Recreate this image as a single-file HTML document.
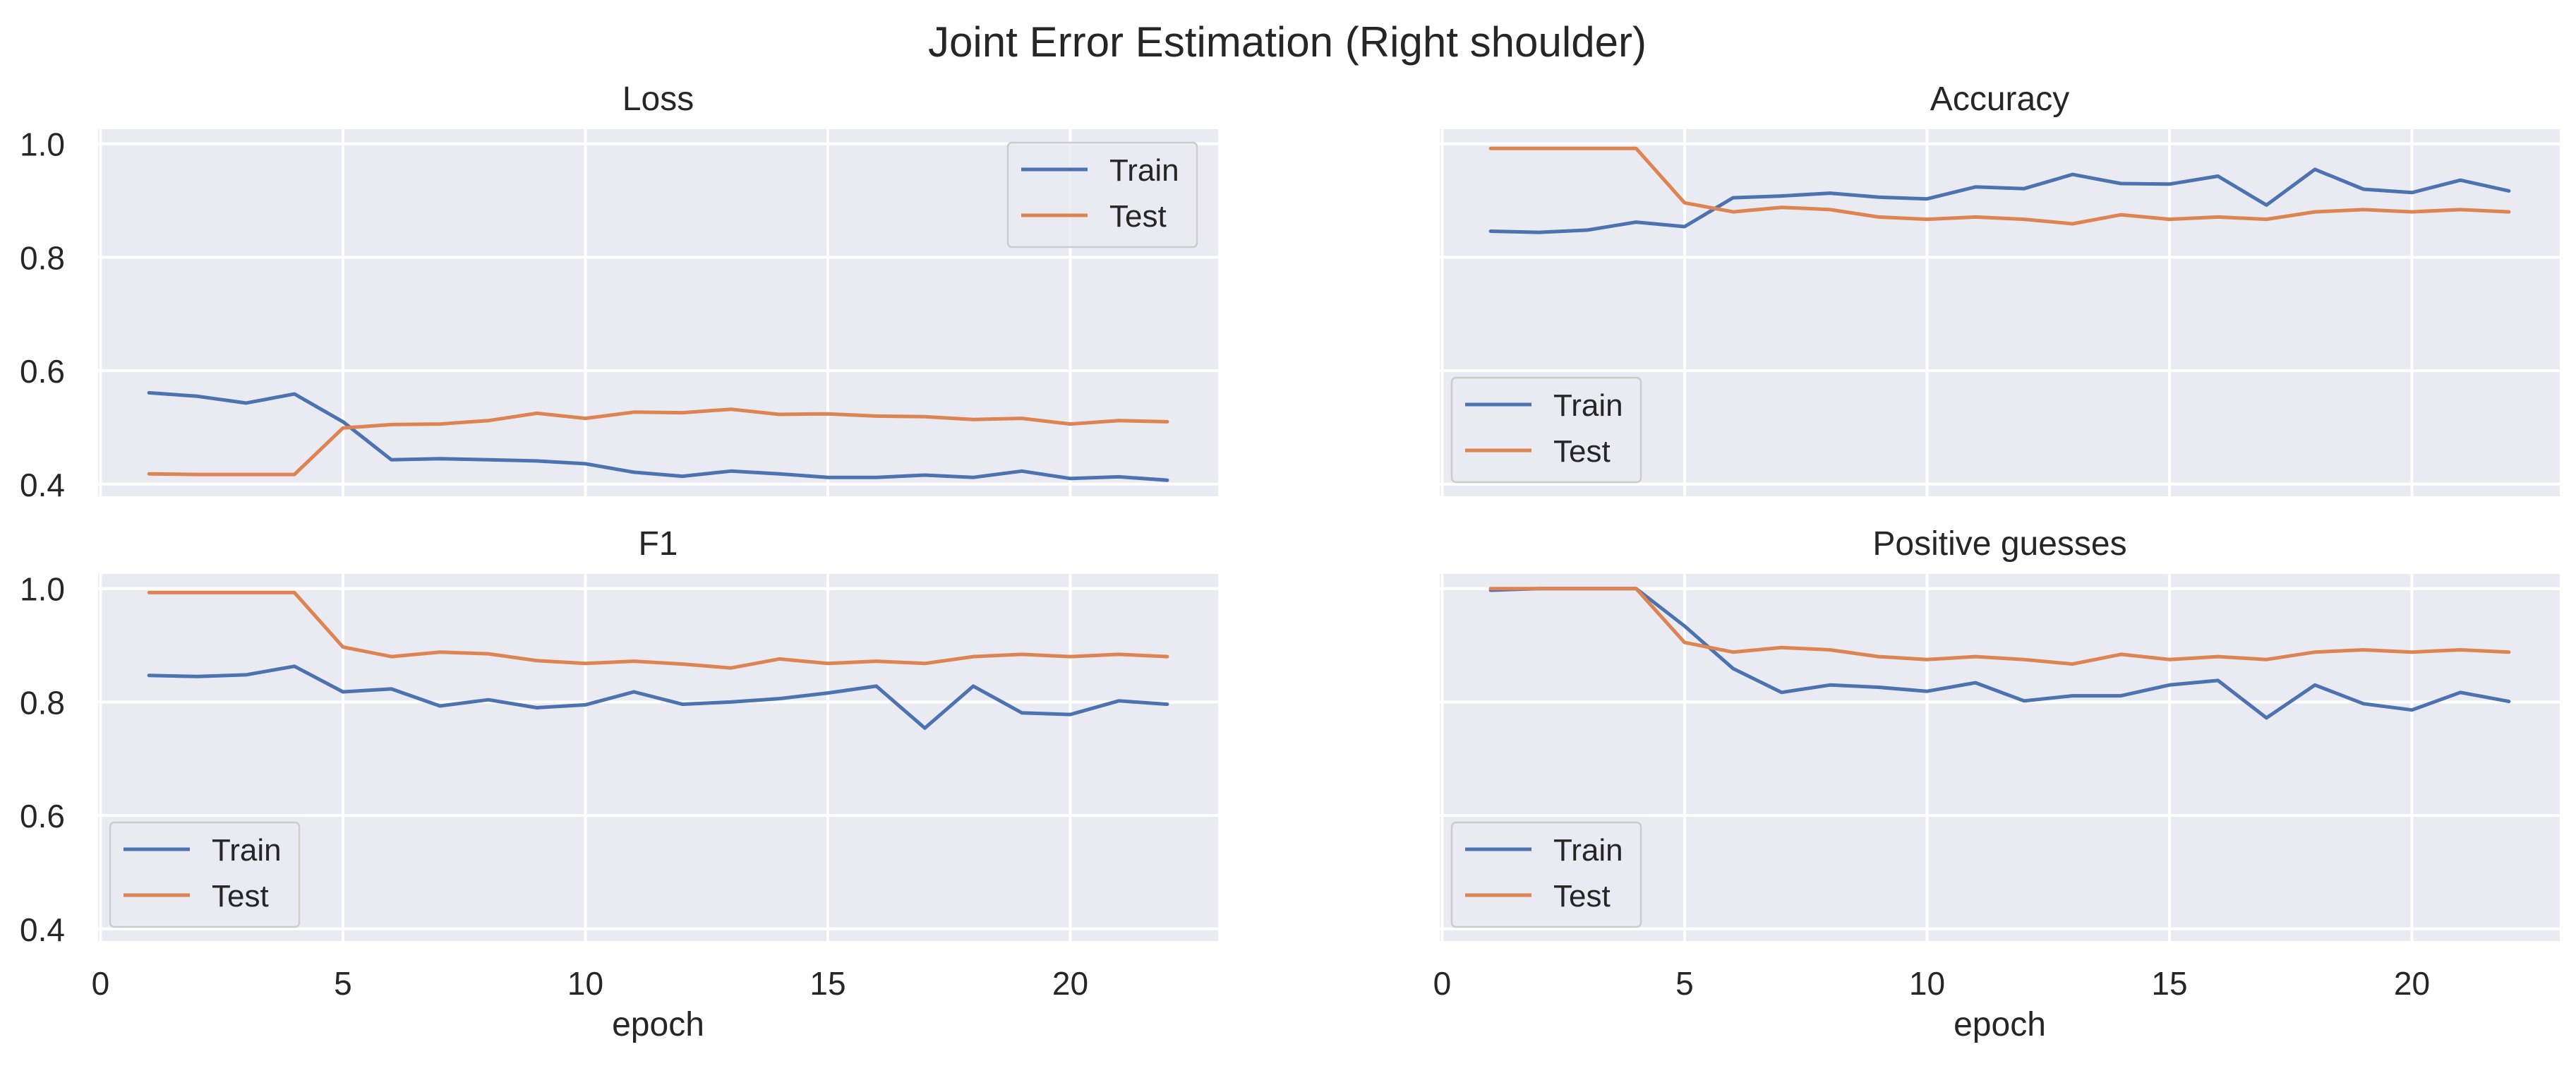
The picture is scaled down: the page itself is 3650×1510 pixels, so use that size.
<!DOCTYPE html>
<html><head><meta charset="utf-8"><style>
html,body{margin:0;padding:0;background:#fff;}
svg{display:block;font-family:"Liberation Sans",Arial,sans-serif;}
</style></head><body>
<svg id="fig" width="3650" height="1510" viewBox="0 0 3650 1510" xmlns="http://www.w3.org/2000/svg">
<text x="1824" y="80" font-size="60" fill="#262626" text-anchor="middle" textLength="1018" lengthAdjust="spacingAndGlyphs">Joint Error Estimation (Right shoulder)</text>
</svg>
<script>
const epochs = [1,2,3,4,5,6,7,8,9,10,11,12,13,14,15,16,17,18,19,20,21,22];
const xTicks = [0,5,10,15,20];
const yTicks = [0.4,0.6,0.8,1.0];
const yTickLabels = ["0.4","0.6","0.8","1.0"];
const lossTrain = [0.561,0.555,0.543,0.559,0.510,0.443,0.445,0.443,0.441,0.436,0.421,0.414,0.423,0.418,0.412,0.412,0.416,0.412,0.423,0.410,0.413,0.407];
const lossTest = [0.418,0.417,0.417,0.417,0.499,0.505,0.506,0.512,0.525,0.516,0.527,0.526,0.532,0.523,0.524,0.520,0.519,0.514,0.516,0.506,0.512,0.510];
const accTrain = [0.846,0.844,0.848,0.862,0.854,0.905,0.908,0.913,0.906,0.903,0.924,0.921,0.946,0.930,0.929,0.943,0.892,0.955,0.920,0.914,0.936,0.917];
const accTest = [0.992,0.992,0.992,0.992,0.896,0.880,0.888,0.884,0.871,0.867,0.871,0.867,0.859,0.875,0.867,0.871,0.867,0.880,0.884,0.880,0.884,0.880];
const f1Train = [0.847,0.845,0.848,0.863,0.818,0.823,0.793,0.804,0.790,0.795,0.818,0.796,0.800,0.806,0.816,0.828,0.754,0.828,0.781,0.778,0.802,0.796];
const f1Test = [0.993,0.993,0.993,0.993,0.897,0.880,0.888,0.885,0.873,0.868,0.872,0.867,0.860,0.876,0.868,0.872,0.868,0.880,0.884,0.880,0.884,0.880];
const posTrain = [0.997,1.0,1.0,1.0,0.934,0.859,0.817,0.830,0.826,0.819,0.834,0.802,0.811,0.811,0.830,0.838,0.772,0.830,0.797,0.786,0.817,0.801];
const posTest = [1.0,1.0,1.0,1.0,0.905,0.888,0.896,0.892,0.880,0.875,0.880,0.875,0.867,0.884,0.875,0.880,0.875,0.888,0.892,0.888,0.892,0.888];

const NS = "http://www.w3.org/2000/svg";
const svg = document.getElementById('fig');
const XMIN = -0.05, XMAX = 23.05, YMIN = 0.3786, YMAX = 1.0258;
const AW = 1587, AH = 520;
const BLUE = "#4c72b0", ORANGE = "#dd8452";

function el(tag, attrs, parent) {
  const e = document.createElementNS(NS, tag);
  for (const k in attrs) e.setAttribute(k, attrs[k]);
  (parent || svg).appendChild(e);
  return e;
}

const panels = [
  {name:'loss', title:'Loss', left:139, top:183, train:lossTrain, test:lossTest, ylabels:true, xlabels:false, legend:'ur'},
  {name:'accuracy', title:'Accuracy', left:2040, top:183, train:accTrain, test:accTest, ylabels:false, xlabels:false, legend:'ll'},
  {name:'f1', title:'F1', left:139, top:813, train:f1Train, test:f1Test, ylabels:true, xlabels:true, legend:'ll'},
  {name:'positive-guesses', title:'Positive guesses', left:2040, top:813, train:posTrain, test:posTest, ylabels:false, xlabels:true, legend:'ll'}
];

panels.forEach(p => {
  const sx = v => p.left + (v - XMIN) / (XMAX - XMIN) * AW;
  const sy = v => p.top + (YMAX - v) / (YMAX - YMIN) * AH;
  const g = el('g', {});
  
  
  const bg = el('rect', {x:p.left, y:p.top, width:AW, height:AH, fill:'#eaeaf2'}, g);
  
  
  xTicks.forEach(t => {
    const l = el('line', {x1:sx(t), x2:sx(t), y1:p.top, y2:p.top+AH, stroke:'#fff', 'stroke-width':4}, g);
    
    
    if (p.xlabels) {
      const tx = el('text', {x:sx(t), y:1409, 'font-size':46, fill:'#262626', 'text-anchor':'middle'}, g);
      tx.textContent = String(t);
      
      
    }
  });
  yTicks.forEach((t, i) => {
    const l = el('line', {x1:p.left, x2:p.left+AW, y1:sy(t), y2:sy(t), stroke:'#fff', 'stroke-width':4}, g);
    
    
    if (p.ylabels) {
      const tx = el('text', {x:92, y:sy(t)+17, 'font-size':46, fill:'#262626', 'text-anchor':'end'}, g);
      tx.textContent = yTickLabels[i];
      
      
    }
  });
  const title = el('text', {x:p.left+AW/2, y:p.top-27, 'font-size':48, fill:'#262626', 'text-anchor':'middle'}, g);
  title.textContent = p.title;
  
  
  if (p.xlabels) {
    const xl = el('text', {x:p.left+AW/2, y:1467, 'font-size':48, fill:'#262626', 'text-anchor':'middle'}, g);
    xl.textContent = 'epoch';
    
    
  }
  [[p.train, BLUE, 'train'], [p.test, ORANGE, 'test']].forEach(([vals, col, nm]) => {
    const pts = epochs.map((e, i) => sx(e).toFixed(1) + ',' + sy(vals[i]).toFixed(1)).join(' ');
    const pl = el('polyline', {points:pts, fill:'none', stroke:col, 'stroke-width':5, 'stroke-linejoin':'round', 'stroke-linecap':'round'}, g);
    
    
  });
  let lx, ly;
  if (p.legend === 'ur') { lx = p.left + AW - 298; ly = p.top + 19; }
  else { lx = p.left + 17; ly = p.top + AH - 168; }
  const lg = el('g', {}, g);
  
  
  el('rect', {x:lx, y:ly, width:268, height:148, rx:6, fill:'#eaeaf2', 'fill-opacity':0.8, stroke:'#cccccc', 'stroke-width':2.5}, lg);
  [['Train', BLUE, 38], ['Test', ORANGE, 103]].forEach(([lab, col, dy]) => {
    const ln = el('line', {x1:lx+19, x2:lx+113, y1:ly+dy, y2:ly+dy, stroke:col, 'stroke-width':5}, lg);
    
    
    const tx = el('text', {x:lx+144, y:ly+dy+16, 'font-size':44, fill:'#262626'}, lg);
    tx.textContent = lab;
    
    
  });
});
</script>
</body></html>
